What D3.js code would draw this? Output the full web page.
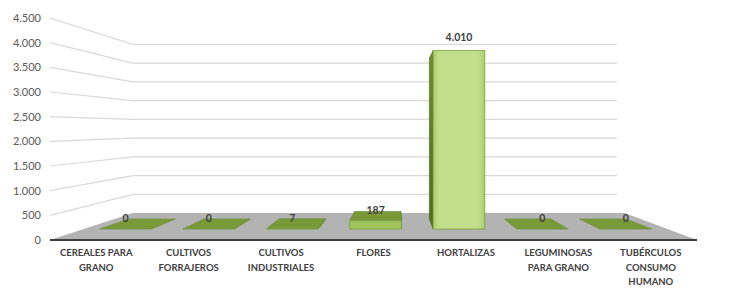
<!DOCTYPE html>
<html lang="es">
<head>
  <meta charset="UTF-8">
  <title>Cultivos - columnas 3D</title>
  <style>
    body { margin: 0; background: #fff; }
    .ytick text { font-family: Lato, sans-serif; font-size: 11px; fill: #595959; }
    .xlab text { font-family: Lato, sans-serif; font-size: 9.5px; font-weight: 700; fill: #404040; }
    .dlabel { font-family: Lato, sans-serif; font-size: 10.5px; font-weight: 700; fill: #404040; text-anchor: middle; }
  </style>
</head>
<body>
  <div id="chart"></div>
  <script src="https://d3js.org/d3.v7.min.js"></script>
  <script>
    // datos
    var categories = ['CEREALES PARA GRANO', 'CULTIVOS FORRAJEROS', 'CULTIVOS INDUSTRIALES', 'FLORES',
      'HORTALIZAS', 'LEGUMINOSAS PARA GRANO', 'TUBÉRCULOS CONSUMO HUMANO']
    var labelLines = [['CEREALES PARA', 'GRANO'], ['CULTIVOS', 'FORRAJEROS'], ['CULTIVOS', 'INDUSTRIALES'],
      ['FLORES'], ['HORTALIZAS'], ['LEGUMINOSAS', 'PARA GRANO'], ['TUBÉRCULOS', 'CONSUMO', 'HUMANO']]
    var values = [0, 0, 7, 187, 4010, 0, 0]
    var yTicks = [0, 500, 1000, 1500, 2000, 2500, 3000, 3500, 4000, 4500]

    var width = 729
    var height = 297
    var svg = d3.select('#chart').append('svg')
      .attr('width', width)
      .attr('height', height)

    var fmt = d3.formatLocale({ decimal: ',', thousands: '.', grouping: [3], currency: ['', ''] }).format(',')

    // plano frontal
    var xScale = d3.scaleBand().domain(categories).range([50, 697])
    var yScale = d3.scaleLinear().domain([0, 4500]).range([240, 18])

    // perspectiva: punto de fuga y profundidad
    var vx = 395, vy = 128
    var a = 1 / 0.76 - 1
    function proj(x, y, z) {
      var s = 1 / (1 + a * z)
      return [vx + s * (x - vx), vy + s * (y - vy)]
    }
    function pts(list) {
      return list.map(function (p) { return p.join(',') }).join(' ')
    }

    var x0 = xScale.range()[0], x1 = xScale.range()[1]

    // pared izquierda y trasera: lineas de division
    var grid = svg.append('g')
    yTicks.filter(function (t) { return t > 0 }).forEach(function (t) {
      var y = yScale(t)
      var p0 = proj(x0, y, 0), p1 = proj(x0, y, 1), p2 = proj(x1 - 10, y, 1)
      grid.append('polyline')
        .attr('points', pts([p0, p1, p2]))
        .attr('fill', 'none')
        .attr('stroke', '#d9d9d9')
        .attr('stroke-width', 1.2)
    })

    // piso
    var y0 = yScale(0)
    svg.append('polygon')
      .attr('points', pts([proj(x0, y0, 0), proj(x0, y0, 1), proj(x1, y0, 1), proj(x1, y0, 0)]))
      .attr('fill', '#b3b3b3')
    svg.append('line')
      .attr('x1', x0).attr('x2', x1)
      .attr('y1', y0).attr('y2', y0)
      .attr('stroke', '#3f3f3f')
      .attr('stroke-width', 2)

    // gradiente frente
    var defs = svg.append('defs')
    var grad = defs.append('linearGradient').attr('id', 'frontGrad')
    grad.append('stop').attr('offset', '0%').attr('stop-color', '#a9cd6c')
    grad.append('stop').attr('offset', '12%').attr('stop-color', '#c2df8c')
    grad.append('stop').attr('offset', '88%').attr('stop-color', '#c2df8c')
    grad.append('stop').attr('offset', '100%').attr('stop-color', '#a9cd6c')
    var sideGrad = defs.append('linearGradient').attr('id', 'sideGrad')
      .attr('x1', 0).attr('y1', 0).attr('x2', 0).attr('y2', 1)
    sideGrad.append('stop').attr('offset', '0%').attr('stop-color', '#6d8d2e')
    sideGrad.append('stop').attr('offset', '100%').attr('stop-color', '#4f6b1f')

    // barras
    var zf = 0.344, zb = 0.731
    var bw = xScale.bandwidth() * 0.62
    var bars = svg.append('g')
    categories.forEach(function (c, i) {
      var cx = xScale(c) + xScale.bandwidth() / 2
      var xl = cx - bw / 2, xr = cx + bw / 2
      var yt = yScale(values[i]), yb = yScale(0)
      var g = bars.append('g')
      // cara lateral
      var sx = cx > vx ? xl : xr
      if (values[i] > 0) {
        g.append('polygon')
          .attr('points', pts([proj(sx, yt, zf), proj(sx, yt, zb), proj(sx, yb, zb), proj(sx, yb, zf)]))
          .attr('fill', 'url(#sideGrad)')
          .attr('stroke', '#4f6b1f').attr('stroke-width', 0.6)
      }
      // cara superior (visible bajo el horizonte)
      var tf = proj(cx, yt, zf), tb = proj(cx, yt, zb)
      if (tb[1] < tf[1]) {
        g.append('polygon')
          .attr('points', pts([proj(xl, yt, zf), proj(xl, yt, zb), proj(xr, yt, zb), proj(xr, yt, zf)]))
          .attr('fill', '#789a38')
          .attr('stroke', '#6a8a30').attr('stroke-width', 0.6)
      }
      // cara frontal
      if (values[i] > 0) {
        var fl = proj(xl, yt, zf), fr = proj(xr, yb, zf)
        g.append('rect')
          .attr('x', fl[0]).attr('y', fl[1])
          .attr('width', fr[0] - fl[0]).attr('height', Math.max(0, fr[1] - fl[1]))
          .attr('fill', values[i] > 1000 ? 'url(#frontGrad)' : '#9fc45d')
          .attr('stroke', '#7f9f3f').attr('stroke-width', 0.8)
      }
      // etiqueta de datos
      svg.append('text')
        .attr('class', 'dlabel')
        .attr('x', tf[0])
        .attr('y', tf[1] - (values[i] > 1000 ? 10 : 7))
        .text(fmt(values[i]))
    })

    // eje Y
    var yAxis = d3.axisLeft(yScale).tickValues(yTicks).tickSize(0).tickPadding(9).tickFormat(fmt)
    var yg = svg.append('g')
      .attr('class', 'ytick')
      .attr('transform', 'translate(' + x0 + ',0)')
      .call(yAxis)
    yg.select('.domain').remove()

    // eje X
    var xAxis = d3.axisBottom(xScale).tickSize(0).tickPadding(0)
    var xg = svg.append('g')
      .attr('class', 'xlab')
      .attr('transform', 'translate(0,' + (y0 + 16) + ')')
      .call(xAxis)
    xg.select('.domain').remove()
    xg.selectAll('text').each(function (d, i) {
      var t = d3.select(this).text('').attr('dy', null).attr('y', 0)
      labelLines[i].forEach(function (line, j) {
        t.append('tspan').attr('x', 0).attr('y', j * 14.5).text(line)
      })
    })
  </script>
</body>
</html>
